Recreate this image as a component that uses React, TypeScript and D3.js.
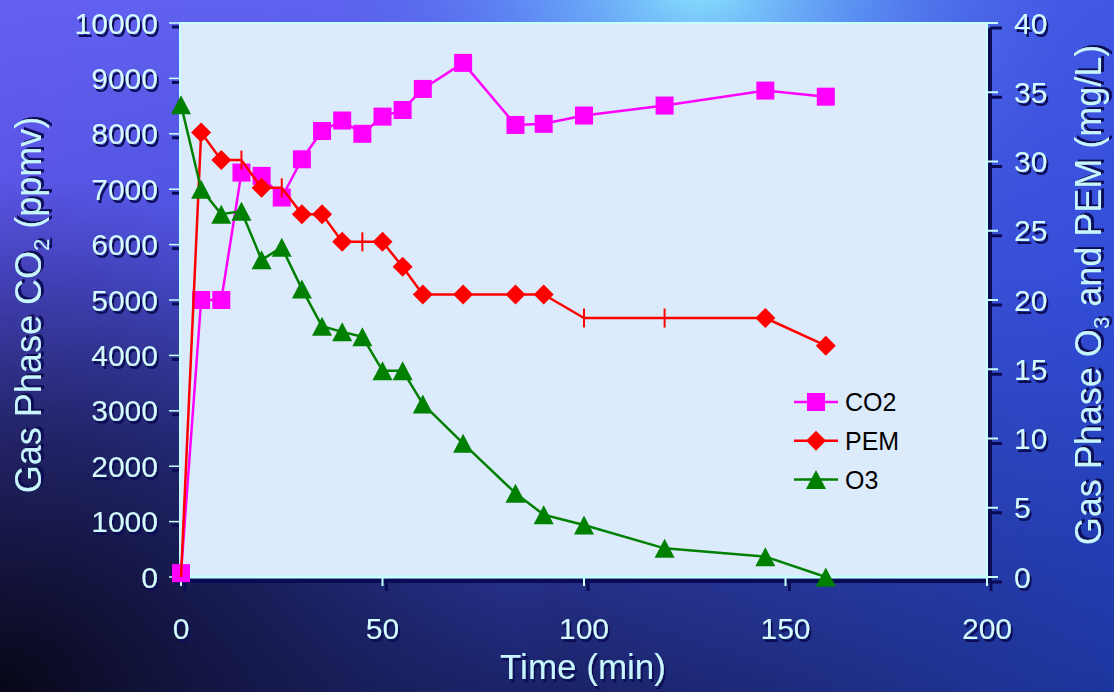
import React from "react";
import * as d3 from "d3";

const times = [0, 5, 10, 15, 20, 25, 30, 35, 40, 45, 50, 55, 60, 70, 83, 90, 100, 120, 145, 160];
const co2 = [70, 5000, 5000, 7300, 7240, 6850, 7540, 8050, 8240, 8000, 8310, 8430, 8810, 9280, 8160, 8180, 8330, 8510, 8780, 8670];
const pem = [0, 32.1, 30.1, 30.1, 28.1, 28.1, 26.2, 26.2, 24.2, 24.2, 24.2, 22.4, 20.4, 20.4, 20.4, 20.4, 18.7, 18.7, 18.7, 16.7];
const pemMarker = ["none", "d", "d", "+", "d", "+", "d", "d", "d", "+", "d", "d", "d", "d", "d", "d", "+", "+", "d", "d"];
const o3 = [34.1, 28.0, 26.2, 26.4, 22.9, 23.8, 20.8, 18.1, 17.7, 17.35, 14.9, 14.9, 12.5, 9.65, 6.05, 4.5, 3.75, 2.07, 1.47, 0];

const xTicks = [0, 50, 100, 150, 200];
const leftTicks = [0, 1000, 2000, 3000, 4000, 5000, 6000, 7000, 8000, 9000, 10000];
const rightTicks = [0, 5, 10, 15, 20, 25, 30, 35, 40];
const legendItems = ["CO2", "PEM", "O3"];

const W = 1114;
const H = 692;
const PL = 180, PR = 987, PT = 23, PB = 577;

const FONT = "'Liberation Sans', Arial, Helvetica, sans-serif";
const LIGHT = "#d4fbff";
const TITLE = "#c8f6ff";
const SHADOW = "#0a0a55";
const MAGENTA = "#ff00ff";
const RED = "#ff0000";
const GREEN = "#008000";

const x = d3.scaleLinear().domain([0, 200]).range([181, 987]);
const yL = d3.scaleLinear().domain([0, 10000]).range([PB, PT]);
const yR = d3.scaleLinear().domain([0, 40]).range([PB, PT]);

function squarePath(cx: number, cy: number, s = 18) {
  const h = s / 2;
  return `M${cx - h},${cy - h}h${s}v${s}h${-s}Z`;
}
function diamondPath(cx: number, cy: number, s = 20) {
  const h = s / 2;
  return `M${cx},${cy - h}L${cx + h},${cy}L${cx},${cy + h}L${cx - h},${cy}Z`;
}
function trianglePath(cx: number, cy: number, w = 20, hgt = 19) {
  return `M${cx},${cy - hgt / 2}L${cx + w / 2},${cy + hgt / 2}L${cx - w / 2},${cy + hgt / 2}Z`;
}

export default function App() {
  const co2Line = d3.line<number>().x((_, i) => x(times[i])).y((d) => yL(d));
  const rLine = d3.line<number>().x((_, i) => x(times[i])).y((d) => yR(d));

  const tickFont = { fontFamily: FONT, fontSize: 30, fill: LIGHT, filter: "url(#ts)" } as any;
  const titleFont = { fontFamily: FONT, fontSize: 36, fill: TITLE, filter: "url(#ts)" } as any;

  return (
    <svg width={W} height={H} style={{ position: "absolute", left: 0, top: 0, display: "block" }}>
      <defs>
        <linearGradient id="bgv" x1="0" y1="0" x2="0" y2="1">
          <stop offset="0%" stopColor="#6166f2" />
          <stop offset="40%" stopColor="#4750d8" />
          <stop offset="70%" stopColor="#2c3aa0" />
          <stop offset="100%" stopColor="#1a2266" />
        </linearGradient>
        <linearGradient id="bgh" x1="0" y1="0" x2="1" y2="0">
          <stop offset="0%" stopColor="#7050f0" stopOpacity="0.35" />
          <stop offset="50%" stopColor="#3050d0" stopOpacity="0" />
          <stop offset="100%" stopColor="#1f4ad8" stopOpacity="0.5" />
        </linearGradient>
        <radialGradient id="glow" cx="700" cy="-30" r="380" gradientUnits="userSpaceOnUse">
          <stop offset="0%" stopColor="#90f0ff" stopOpacity="0.95" />
          <stop offset="45%" stopColor="#60b8f8" stopOpacity="0.5" />
          <stop offset="100%" stopColor="#4060e0" stopOpacity="0" />
        </radialGradient>
        <radialGradient id="dark" cx="0" cy="700" r="520" gradientUnits="userSpaceOnUse">
          <stop offset="0%" stopColor="#04040f" stopOpacity="0.95" />
          <stop offset="50%" stopColor="#0a0c28" stopOpacity="0.6" />
          <stop offset="100%" stopColor="#0a0c28" stopOpacity="0" />
        </radialGradient>
        <filter id="ts" x="-20%" y="-20%" width="140%" height="140%">
          <feDropShadow dx="2" dy="3" stdDeviation="0" floodColor={SHADOW} floodOpacity="1" />
        </filter>
      </defs>

      {/* background */}
      <rect x={0} y={0} width={W} height={H} fill="url(#bgv)" />
      <rect x={0} y={0} width={W} height={H} fill="url(#bgh)" />
      <rect x={0} y={0} width={W} height={H} fill="url(#glow)" />
      <rect x={0} y={0} width={W} height={H} fill="url(#dark)" />

      {/* plot area */}
      <rect x={PL} y={PT} width={PR - PL} height={PB - PT} fill="#dbebfb" />

      {/* axis shadows */}
      <g stroke={SHADOW} strokeWidth={4} fill="none">
        <line x1={PL + 2} y1={PB + 4} x2={PR + 4} y2={PB + 4} />
        <line x1={PR + 3} y1={PT + 5} x2={PR + 3} y2={PB + 6} />
        {xTicks.map((t) => (
          <line key={"xs" + t} x1={x(t) + 4} y1={PB + 4} x2={x(t) + 4} y2={PB + 14} strokeWidth={3} />
        ))}
        {rightTicks.map((t) => (
          <line key={"rs" + t} x1={PR + 3} y1={yR(t) + 5} x2={PR + 15} y2={yR(t) + 5} strokeWidth={3} />
        ))}
        {leftTicks.map((t) => (
          <line key={"ls" + t} x1={172} y1={yL(t) + 4} x2={PL} y2={yL(t) + 4} strokeWidth={3} />
        ))}
      </g>
      {/* light axis lines */}
      <g stroke="#c8ffff" strokeWidth={2} fill="none">
        <line x1={PL} y1={PB} x2={PR} y2={PB} strokeWidth={3} />
        <line x1={PR} y1={PT} x2={PR} y2={PB} />
        <line x1={PL} y1={PT} x2={PL} y2={PB} />
        <line x1={PL} y1={PT} x2={PR} y2={PT} />
        {xTicks.map((t) => (
          <line key={"xl" + t} x1={x(t)} y1={PB} x2={x(t)} y2={PB + 9} />
        ))}
        {rightTicks.map((t) => (
          <line key={"rl" + t} x1={PR} y1={yR(t)} x2={PR + 11} y2={yR(t)} />
        ))}
        {leftTicks.map((t) => (
          <line key={"ll" + t} x1={169} y1={yL(t)} x2={PL} y2={yL(t)} strokeWidth={1.5} />
        ))}
      </g>

      {/* tick labels */}
      {leftTicks.map((t) => (
        <text key={"lt" + t} x={158} y={yL(t) + 10.5} textAnchor="end" {...tickFont}>{String(t)}</text>
      ))}
      {rightTicks.map((t) => (
        <text key={"rt" + t} x={1014} y={yR(t) + 10.5} textAnchor="start" {...tickFont}>{String(t)}</text>
      ))}
      {xTicks.map((t) => (
        <text key={"xt" + t} x={x(t)} y={639} textAnchor="middle" {...tickFont}>{String(t)}</text>
      ))}

      {/* axis titles */}
      <text x={583} y={679} textAnchor="middle" {...titleFont} fontSize={35}>Time (min)</text>
      <text x={41} y={305} textAnchor="middle" transform="rotate(-90,41,305)" {...titleFont}>
        Gas Phase CO<tspan fontSize={22} dy={8}>2</tspan><tspan dy={-8}> (ppmv)</tspan>
      </text>
      <text x={1101} y={295} textAnchor="middle" transform="rotate(-90,1101,295)" {...titleFont}>
        Gas Phase O<tspan fontSize={22} dy={8}>3</tspan><tspan dy={-8}> and PEM (mg/L)</tspan>
      </text>

      {/* CO2 series */}
      <path d={co2Line(co2) || ""} fill="none" stroke={MAGENTA} strokeWidth={2.5} strokeLinejoin="round" />
      {co2.map((v, i) => (
        <path key={"c" + i} d={squarePath(x(times[i]), yL(v))} fill={MAGENTA} />
      ))}

      {/* PEM series */}
      <path d={rLine(pem) || ""} fill="none" stroke={RED} strokeWidth={2.5} strokeLinejoin="round" />
      {pem.map((v, i) => {
        const cx = x(times[i]);
        const cy = yR(v);
        if (pemMarker[i] === "d") return <path key={"p" + i} d={diamondPath(cx, cy)} fill={RED} />;
        if (pemMarker[i] === "+")
          return <line key={"p" + i} x1={cx} y1={cy - 9.5} x2={cx} y2={cy + 9.5} stroke={RED} strokeWidth={2} />;
        return null;
      })}

      {/* O3 series */}
      <path d={rLine(o3) || ""} fill="none" stroke={GREEN} strokeWidth={2.5} strokeLinejoin="round" />
      {o3.map((v, i) => (
        <path key={"o" + i} d={trianglePath(x(times[i]), yR(v))} fill={GREEN} />
      ))}

      {/* legend */}
      {legendItems.map((name, i) => {
        const ly = 402 + i * 38.8;
        const color = [MAGENTA, RED, GREEN][i];
        const marker = i === 0 ? squarePath(816, ly) : i === 1 ? diamondPath(816, ly) : trianglePath(816, ly);
        return (
          <g key={name}>
            <line x1={794} y1={ly} x2={838} y2={ly} stroke={color} strokeWidth={2.5} />
            <path d={marker} fill={color} />
            <text x={845} y={ly + 9} fontFamily={FONT} fontSize={25} fill="#000">{name}</text>
          </g>
        );
      })}
    </svg>
  );
}
